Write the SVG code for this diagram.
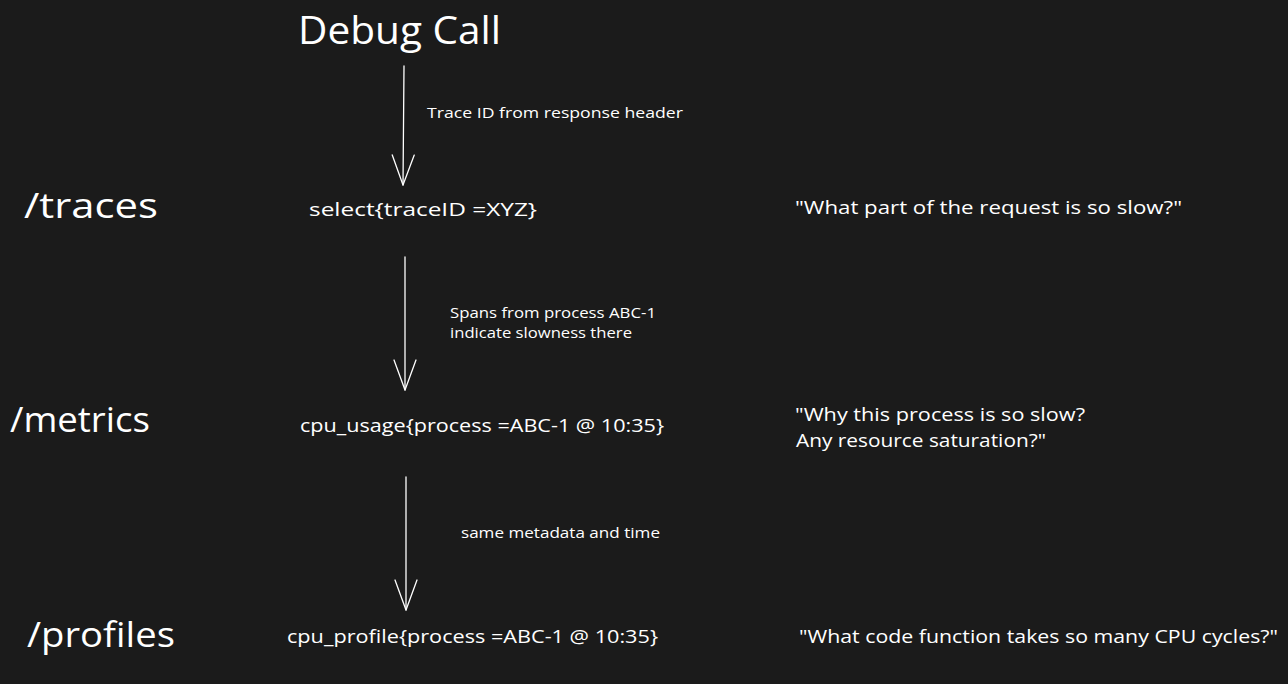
<svg xmlns="http://www.w3.org/2000/svg" width="1288" height="684" viewBox="0 0 1288 684">
<defs>
<style>
.t{font-family:"Open Sans","Liberation Sans",sans-serif;fill:#ffffff}
.c{stroke:#ffffff;stroke-width:1.3;fill:none;stroke-linecap:round;stroke-linejoin:round}
</style>
<marker id="ah" viewBox="0 0 34 30" refX="32" refY="15" markerWidth="34" markerHeight="30" markerUnits="userSpaceOnUse" orient="auto">
<path d="M2 4 L32 15 L2 26" fill="none" stroke="#ffffff" stroke-width="1.3" stroke-linecap="round" stroke-linejoin="round"/>
</marker>
</defs>
<rect width="1288" height="684" fill="#1b1b1b"/>
<g id="title"><text class="t" x="298" y="44" font-size="38" textLength="203" lengthAdjust="spacingAndGlyphs">Debug Call</text></g>
<g id="connectors">
<path class="c" d="M404 66 L403 185" marker-end="url(#ah)"/>
<text class="t" x="427" y="118" font-size="14" textLength="256" lengthAdjust="spacingAndGlyphs">Trace ID from response header</text>
<path class="c" d="M405 257 L405 390" marker-end="url(#ah)"/>
<text class="t" x="450" y="318" font-size="14" textLength="206" lengthAdjust="spacingAndGlyphs">Spans from process ABC-1</text>
<text class="t" x="450" y="338" font-size="14" textLength="182" lengthAdjust="spacingAndGlyphs">indicate slowness there</text>
<path class="c" d="M406 477 L406 610" marker-end="url(#ah)"/>
<text class="t" x="461" y="538" font-size="14" textLength="199" lengthAdjust="spacingAndGlyphs">same metadata and time</text>
</g>
<g id="traces">
<text class="t" x="24" y="218" font-size="34" textLength="134" lengthAdjust="spacingAndGlyphs">/traces</text>
<text class="t" x="309" y="216" font-size="18" textLength="228" lengthAdjust="spacingAndGlyphs">select{traceID =XYZ}</text>
<text class="t" x="795" y="214" font-size="18" textLength="387" lengthAdjust="spacingAndGlyphs">"What part of the request is so slow?"</text>
</g>
<g id="metrics">
<text class="t" x="10" y="432" font-size="34" textLength="140" lengthAdjust="spacingAndGlyphs">/metrics</text>
<text class="t" x="300" y="432" font-size="18" textLength="364" lengthAdjust="spacingAndGlyphs">cpu_usage{process =ABC-1 @ 10:35}</text>
<text class="t" x="795" y="421" font-size="18" textLength="290" lengthAdjust="spacingAndGlyphs">"Why this process is so slow?</text>
<text class="t" x="796" y="447" font-size="18" textLength="250" lengthAdjust="spacingAndGlyphs">Any resource saturation?"</text>
</g>
<g id="profiles">
<text class="t" x="27" y="647" font-size="34" textLength="148" lengthAdjust="spacingAndGlyphs">/profiles</text>
<text class="t" x="287" y="643" font-size="18" textLength="371" lengthAdjust="spacingAndGlyphs">cpu_profile{process =ABC-1 @ 10:35}</text>
<text class="t" x="799" y="643" font-size="18" textLength="479" lengthAdjust="spacingAndGlyphs">"What code function takes so many CPU cycles?"</text>
</g>
</svg>
